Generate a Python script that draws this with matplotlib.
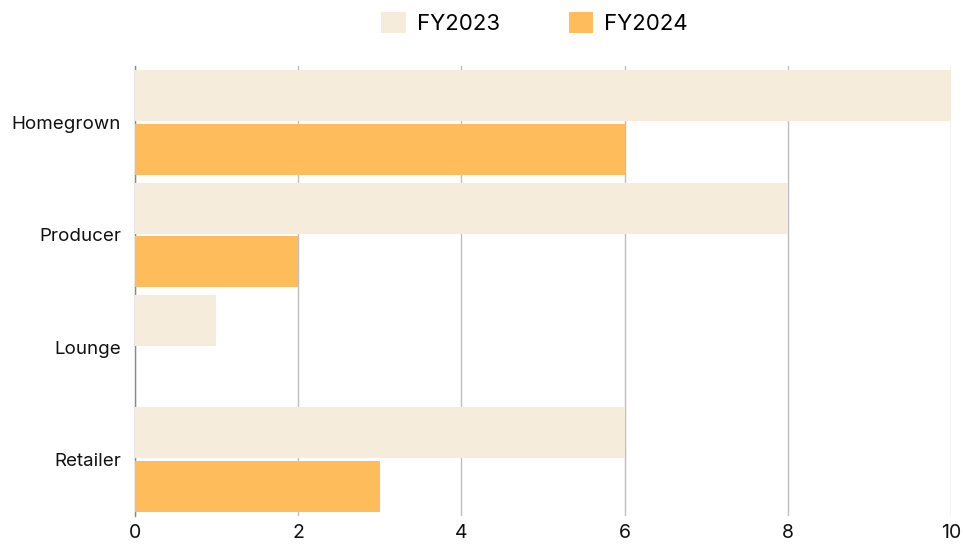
import matplotlib.pyplot as plt
from matplotlib.patches import Patch
import numpy as np

plt.rcParams['font.family'] = ['Inter', 'DejaVu Sans']

categories = ['Homegrown', 'Producer', 'Lounge', 'Retailer']
fy2023 = [10, 8, 1, 6]
fy2024 = [6, 2, 0, 3]
series_names = ['FY2023', 'FY2024']
colors = ['#F5ECDB', '#FFBC5A']

fig = plt.figure(figsize=(9.63, 5.45), dpi=100)
ax = fig.add_axes([0.140, 0.054, 0.8475, 0.824])

y = np.arange(len(categories))
h = 0.453
off = 0.238
ax.barh(y - off, fy2023, height=h, color=colors[0], zorder=3)
ax.barh(y + off, fy2024, height=h, color=colors[1], zorder=3)

ax.set_ylim(len(categories) - 0.5, -0.5)
ax.set_xlim(0, 10)
ax.set_yticks(y)
ax.set_yticklabels(categories)
ax.set_xticks([0, 2, 4, 6, 8, 10])

ax.grid(axis='x', color='#BDBDBD', linewidth=1, zorder=0)
for s in ['top', 'right', 'bottom']:
    ax.spines[s].set_visible(False)
ax.spines['left'].set_color('#888888')
ax.spines['left'].set_linewidth(1)
ax.tick_params(axis='both', length=0, labelsize=14, colors='#111111')
ax.tick_params(axis='y', labelsize=13.5, pad=10)
ax.tick_params(axis='x', pad=6)

handles = [Patch(facecolor=c, edgecolor='none') for c in colors]
fig.legend(handles, series_names, loc='upper center', bbox_to_anchor=(0.555, 1.015),
           ncol=2, frameon=False, fontsize=16, handlelength=1.1, handleheight=1.1,
           columnspacing=3.1, handletextpad=0.5)

fig.savefig('out.png', dpi=100)
